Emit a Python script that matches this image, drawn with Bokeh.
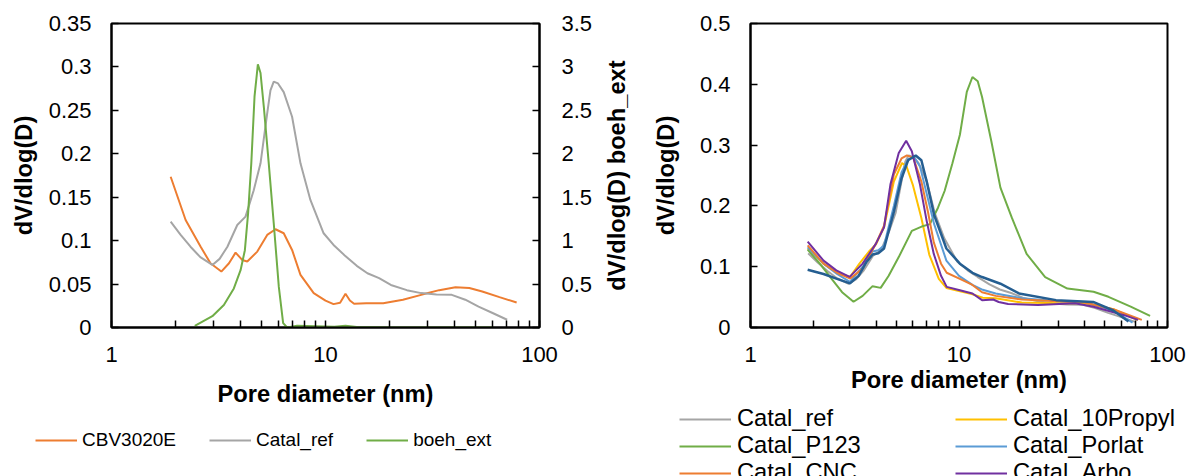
import math
from bokeh.plotting import figure
from bokeh.models import (Range1d, LinearAxis, FixedTicker, NumeralTickFormatter,
                          Legend, LegendItem)
from bokeh.layouts import row, column
from bokeh.embed import file_html
from bokeh.resources import INLINE

# ---------------- data: left chart ----------------
cbv_d = [1.89, 2.22, 2.61, 2.9, 3.26, 3.54, 3.8, 4.08, 4.31, 4.8, 5.34, 5.84, 6.38, 6.98, 7.64,
         8.81, 10.0, 10.9, 11.7, 12.4, 13.0, 13.6, 15.5, 18.6, 23, 28, 34, 40.5, 47, 54, 65, 78.2]
cbv_v = [0.1736, 0.1238, 0.093, 0.074, 0.0644, 0.074, 0.0862, 0.0778, 0.0759, 0.0874, 0.1066,
         0.1131, 0.1085, 0.0893, 0.0606, 0.0395, 0.031, 0.0269, 0.0285, 0.0388, 0.031, 0.0273,
         0.0278, 0.028, 0.032, 0.0376, 0.043, 0.0464, 0.0455, 0.0414, 0.035, 0.0287]

ref_d = [1.89, 2.1, 2.34, 2.6, 2.96, 3.2, 3.48, 3.87, 4.23, 4.62, 4.97, 5.34, 5.53, 5.73, 6.0,
         6.38, 6.98, 7.64, 8.5, 9.8, 11.0, 12.3, 14.0, 15.7, 17.8, 20.2, 24, 28, 33, 38.9, 45,
         51.9, 60, 70.6]
ref_v = [0.1219, 0.107, 0.093, 0.081, 0.072, 0.079, 0.093, 0.118, 0.1276, 0.158, 0.189, 0.2465,
         0.273, 0.283, 0.281, 0.271, 0.2426, 0.189, 0.1468, 0.1085, 0.094, 0.083, 0.071, 0.0625,
         0.0568, 0.049, 0.043, 0.0396, 0.038, 0.0376, 0.032, 0.0241, 0.017, 0.0089]

boeh_d = [2.45, 2.96, 3.35, 3.73, 4.01, 4.2, 4.35, 4.5, 4.66, 4.83, 4.97, 5.15, 5.43, 5.73,
          6.05, 6.34, 6.62, 7.37, 9.0, 11.0, 12.4, 14.0, 20, 30, 45, 61]
boeh_v = [0.02, 0.13, 0.26, 0.45, 0.66, 0.89, 1.32, 1.89, 2.66, 3.03, 2.93, 2.54, 1.89, 1.2,
          0.47, 0.05, 0.0, 0.02, 0.015, 0.01, 0.02, 0.005, 0.0, 0.0, 0.0, 0.0]

# ---------------- data: right chart ----------------
p123_d = [1.88, 2.15, 2.45, 2.75, 3.12, 3.45, 3.85, 4.21, 4.6, 5.14, 5.94, 6.62, 7.25, 7.93,
          8.53, 9.3, 10.1, 10.9, 11.6, 12.3, 12.9, 14.3, 15.8, 17.9, 21.1, 25.9, 33.1, 44.2,
          52.1, 66.6, 82.5]
p123_v = [0.128, 0.105, 0.08, 0.058, 0.0424, 0.052, 0.068, 0.0652, 0.085, 0.1158, 0.159, 0.166,
          0.170, 0.197, 0.2245, 0.27, 0.317, 0.3875, 0.412, 0.405, 0.379, 0.306, 0.23, 0.181,
          0.121, 0.083, 0.064, 0.0587, 0.0505, 0.0342, 0.019]

propyl_d = [1.88, 2.24, 2.6, 3.0, 3.33, 3.7, 4.0, 4.37, 4.87, 5.33, 5.6, 6.0, 6.6, 7.2, 8.0,
            8.7, 10.0, 11.5, 13.0, 15.0, 20, 30, 40, 55, 72]
propyl_v = [0.13, 0.105, 0.09, 0.083, 0.105, 0.125, 0.137, 0.165, 0.24, 0.2706, 0.265, 0.235,
            0.18, 0.12, 0.08, 0.065, 0.06, 0.055, 0.049, 0.048, 0.041, 0.04, 0.04, 0.03, 0.012]

porlat_d = [1.88, 2.24, 2.6, 3.0, 3.45, 3.85, 4.1, 4.37, 4.87, 5.3, 5.7, 6.1, 6.5, 7.0, 7.6,
            8.7, 10.0, 11.6, 13.0, 15.0, 20, 30, 40, 55, 68]
porlat_v = [0.132, 0.105, 0.088, 0.075, 0.1, 0.125, 0.127, 0.135, 0.2, 0.255, 0.277, 0.28,
            0.265, 0.22, 0.17, 0.11, 0.085, 0.07, 0.062, 0.056, 0.048, 0.043, 0.042, 0.028, 0.008]

cnc_d = [1.88, 2.24, 2.6, 3.01, 3.45, 3.99, 4.37, 4.87, 5.3, 5.63, 6.04, 6.6, 7.1, 7.57, 8.2,
         8.73, 10.1, 11.6, 12.9, 15, 20, 30, 40, 55, 75.3]
cnc_v = [0.135, 0.105, 0.09, 0.0805, 0.0968, 0.1376, 0.1674, 0.2517, 0.278, 0.283, 0.279, 0.24,
         0.19, 0.14, 0.105, 0.09, 0.08, 0.07, 0.058, 0.052, 0.046, 0.043, 0.041, 0.03, 0.0125]

arbo_d = [1.88, 2.24, 2.58, 2.99, 3.45, 3.99, 4.37, 4.69, 5.14, 5.58, 5.94, 6.5, 7.0, 7.57,
          8.2, 8.73, 10.1, 11.6, 12.9, 14.6, 15.5, 17.2, 23.9, 36, 44.2, 61.4, 72.3]
arbo_v = [0.1413, 0.110, 0.094, 0.0832, 0.105, 0.1376, 0.1647, 0.2354, 0.287, 0.307, 0.290,
          0.235, 0.175, 0.121, 0.085, 0.0668, 0.0614, 0.056, 0.045, 0.046, 0.042, 0.0386, 0.037,
          0.040, 0.034, 0.0207, 0.0125]

darkblue_d = [1.88, 2.24, 2.6, 3.0, 3.3, 3.6, 3.85, 4.1, 4.37, 4.87, 5.3, 5.7, 6.2, 6.6, 7.0,
              7.6, 8.7, 10.1, 11.6, 12.9, 15.8, 19.4, 29.2, 44, 55, 65]
darkblue_v = [0.095, 0.088, 0.08, 0.0725, 0.085, 0.108, 0.12, 0.122, 0.13, 0.19, 0.245, 0.275,
              0.283, 0.275, 0.24, 0.185, 0.13, 0.105, 0.09, 0.083, 0.072, 0.056, 0.045, 0.042,
              0.028, 0.0098]

# ticks
x_major = [1, 10, 100]
x_minor = [2, 3, 4, 5, 6, 7, 8, 9, 20, 30, 40, 50, 60, 70, 80, 90]
left_ticks = [0, 0.05, 0.1, 0.15, 0.2, 0.25, 0.3, 0.35]
boeh_ticks = [0, 0.5, 1, 1.5, 2, 2.5, 3, 3.5]
right_ticks = [0, 0.1, 0.2, 0.3, 0.4, 0.5]

FONT = "Liberation Sans"
C_ORANGE = "#ED7D31"
C_GRAY = "#A5A5A5"
C_GREEN = "#70AD47"
C_YELLOW = "#FFC000"
C_LBLUE = "#5B9BD5"
C_PURPLE = "#7030A0"
C_DBLUE = "#255E91"

CHART_H = 409


def style_axis(ax, minor=False):
    ax.axis_line_color = "black"
    ax.axis_line_width = 2
    ax.major_tick_line_color = "black"
    ax.major_tick_line_width = 1.5
    ax.major_tick_in = 7
    ax.major_tick_out = 0
    if minor:
        ax.minor_tick_line_color = "black"
        ax.minor_tick_line_width = 1.5
        ax.minor_tick_in = 7
        ax.minor_tick_out = 0
    else:
        ax.minor_tick_line_color = None
    ax.major_label_text_font = FONT
    ax.major_label_text_font_size = "22px"
    ax.major_label_text_color = "black"
    ax.axis_label_text_font = FONT
    ax.axis_label_text_font_size = "23.7px"
    ax.axis_label_text_font_style = "bold"
    ax.axis_label_text_color = "black"


def base_fig(width, yr, left, right, top):
    p = figure(width=width, height=CHART_H, x_axis_type="log", x_range=Range1d(1, 100),
               y_range=Range1d(*yr), output_backend="svg", toolbar_location=None,
               min_border_left=left, min_border_right=right, min_border_top=top,
               min_border_bottom=CHART_H - 328)
    p.xgrid.visible = False
    p.ygrid.visible = False
    p.outline_line_color = "black"
    p.outline_line_width = 2
    p.background_fill_color = "white"
    p.border_fill_color = "white"
    xa = p.xaxis[0]
    xa.ticker = FixedTicker(ticks=x_major, minor_ticks=x_minor)
    xa.formatter = NumeralTickFormatter(format="0")
    xa.axis_label = "Pore diameter (nm)"
    style_axis(xa, minor=True)
    xa.major_label_standoff = 19
    return p


def make_legend(items, **kw):
    return Legend(items=items, padding=0, margin=0, label_text_font=FONT,
                  label_text_color="black", border_line_alpha=0, background_fill_alpha=0,
                  **kw)


# ---------------- left chart ----------------
p1 = base_fig(600, (0, 0.35), 111, 61, 23)
p1.xaxis[0].axis_label_standoff = 16
ya = p1.yaxis[0]
ya.ticker = FixedTicker(ticks=left_ticks)
ya.formatter = NumeralTickFormatter(format="0.[00]")
ya.axis_label = "dV/dlog(D)"
style_axis(ya)
ya.major_label_standoff = 20
ya.axis_label_standoff = 9

p1.extra_y_ranges = {"boeh": Range1d(0, 3.5)}
ya2 = LinearAxis(y_range_name="boeh", ticker=FixedTicker(ticks=boeh_ticks),
                 formatter=NumeralTickFormatter(format="0.[0]"))
style_axis(ya2)
ya2.major_label_standoff = 22
p1.add_layout(ya2, "right")

left_series = [("CBV3020E", cbv_d, cbv_v, C_ORANGE, None),
               ("Catal_ref", ref_d, ref_v, C_GRAY, None),
               ("boeh_ext", boeh_d, boeh_v, C_GREEN, "boeh")]
for name, d, v, c, rng in left_series:
    if rng:
        p1.line(d, v, line_color=c, line_width=2, y_range_name=rng)
    else:
        p1.line(d, v, line_color=c, line_width=2)

# ---------------- right chart ----------------
p2 = base_fig(593, (0, 0.5), 143, 26, 21)
p2.xaxis[0].axis_label_standoff = 2
yb = p2.yaxis[0]
yb.ticker = FixedTicker(ticks=right_ticks)
yb.formatter = NumeralTickFormatter(format="0.[0]")
yb.axis_label = "dV/dlog(D)"
style_axis(yb)
yb.major_label_standoff = 20
yb.axis_label_standoff = 18

# title of the left chart's secondary (boeh_ext) axis, shown between the two panels
yt = LinearAxis(ticker=FixedTicker(ticks=[]), axis_label="dV/dlog(D) boeh_ext")
style_axis(yt)
yt.axis_line_color = None
yt.major_tick_line_color = None
yt.major_label_standoff = 0
yt.axis_label_standoff = 20
p2.add_layout(yt, "left")

right_series = [("Catal_ref", ref_d, ref_v, C_GRAY, 2),
                ("Catal_10Propyl", propyl_d, propyl_v, C_YELLOW, 2),
                ("Catal_P123", p123_d, p123_v, C_GREEN, 2),
                ("Catal_Porlat", porlat_d, porlat_v, C_LBLUE, 2),
                ("Catal_CNC", cnc_d, cnc_v, C_ORANGE, 2),
                ("Catal_Arbo", arbo_d, arbo_v, C_PURPLE, 2)]
for name, d, v, c, w in right_series:
    p2.line(d, v, line_color=c, line_width=w)
p2.line(darkblue_d, darkblue_v, line_color=C_DBLUE, line_width=2.5)

# ---------------- legend strip below both charts ----------------
LH = 476 - CHART_H
lf = figure(width=1193, height=LH, x_range=Range1d(100, 200), y_range=Range1d(0, 1),
            output_backend="svg", toolbar_location=None, x_axis_location=None,
            y_axis_location=None, min_border=0)
lf.xgrid.visible = False
lf.ygrid.visible = False
lf.outline_line_color = None
lf.border_fill_color = "white"

# legend proxies: the same series, drawn outside the strip's visible x-range
items1 = [LegendItem(label=name, renderers=[lf.line(d, v, line_color=c, line_width=2)])
          for name, d, v, c, rng in left_series]
lf.add_layout(make_legend(items1, location=(35, 25), orientation="horizontal",
                          spacing=33, glyph_width=42, glyph_height=20, label_height=20,
                          label_standoff=5, label_text_font_size="19px"))

legend_order = ["Catal_ref", "Catal_P123", "Catal_CNC", "Catal_10Propyl", "Catal_Porlat",
                "Catal_Arbo"]
series_of = {name: (d, v, c) for name, d, v, c, w in right_series}
items2 = []
for n in legend_order:
    d, v, c = series_of[n]
    items2.append(LegendItem(label=n, renderers=[lf.line(d, v, line_color=c, line_width=2)]))
lf.add_layout(make_legend(items2, location=(679, -10), orientation="vertical", ncols=2,
                          spacing=0, glyph_width=52, glyph_height=20, label_height=20,
                          label_width=218, label_standoff=6, label_text_font_size="23.7px"))

layout = column(row(p1, p2, spacing=0), lf, spacing=0)
open("out.html", "w").write(file_html(layout, INLINE))
